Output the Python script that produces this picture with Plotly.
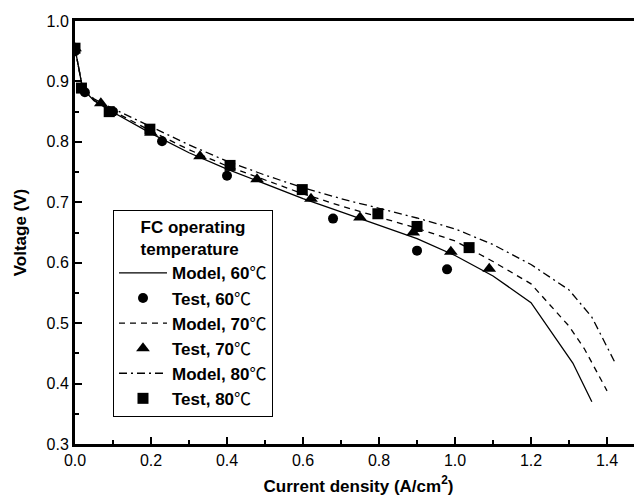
import plotly.graph_objects as go

# Model curves
model60_x = [0.0, 0.01, 0.02, 0.05, 0.1, 0.2, 0.3, 0.4, 0.5, 0.6, 0.7, 0.8, 0.9, 1.0, 1.1, 1.2, 1.31, 1.36]
model60_y = [0.955, 0.92, 0.888, 0.868, 0.849, 0.814, 0.782, 0.755, 0.730, 0.706, 0.684, 0.662, 0.640, 0.612, 0.578, 0.534, 0.434, 0.370]

model70_x = [0.0, 0.01, 0.02, 0.05, 0.1, 0.2, 0.3, 0.4, 0.5, 0.6, 0.7, 0.8, 0.9, 1.0, 1.1, 1.2, 1.3, 1.34, 1.4]
model70_y = [0.955, 0.92, 0.888, 0.869, 0.851, 0.818, 0.787, 0.760, 0.737, 0.714, 0.694, 0.675, 0.657, 0.636, 0.602, 0.565, 0.495, 0.458, 0.388]

model80_x = [0.0, 0.01, 0.02, 0.05, 0.1, 0.2, 0.3, 0.4, 0.5, 0.6, 0.7, 0.8, 0.9, 1.0, 1.1, 1.2, 1.3, 1.36, 1.42]
model80_y = [0.955, 0.92, 0.889, 0.871, 0.855, 0.825, 0.795, 0.768, 0.745, 0.724, 0.706, 0.690, 0.674, 0.656, 0.630, 0.597, 0.555, 0.510, 0.436]

# Test data
test60_x = [0.0, 0.026, 0.1, 0.229, 0.40, 0.679, 0.90, 0.979]
test60_y = [0.950, 0.882, 0.850, 0.801, 0.744, 0.673, 0.620, 0.589]

test70_x = [0.0, 0.068, 0.2, 0.329, 0.479, 0.621, 0.75, 0.89, 0.989, 1.09]
test70_y = [0.955, 0.864, 0.815, 0.776, 0.738, 0.706, 0.675, 0.650, 0.618, 0.590]

test80_x = [0.0, 0.017, 0.09, 0.197, 0.408, 0.598, 0.797, 0.90, 1.037]
test80_y = [0.955, 0.889, 0.850, 0.821, 0.761, 0.721, 0.681, 0.660, 0.625]

x_ticks = [0.0, 0.2, 0.4, 0.6, 0.8, 1.0, 1.2, 1.4]
y_ticks = [0.3, 0.4, 0.5, 0.6, 0.7, 0.8, 0.9, 1.0]

DEG = "<span style='font-family:Noto Sans CJK SC;font-weight:normal'>℃</span>"

fig = go.Figure()
fig.add_trace(go.Scatter(x=model60_x, y=model60_y, mode="lines", name="Model, 60" + DEG,
                         line=dict(color="black", width=1.3, dash="solid")))
fig.add_trace(go.Scatter(x=test60_x, y=test60_y, mode="markers", name="Test, 60" + DEG,
                         marker=dict(symbol="circle", size=10, color="black")))
fig.add_trace(go.Scatter(x=model70_x, y=model70_y, mode="lines", name="Model, 70" + DEG,
                         line=dict(color="black", width=1.3, dash="6px,5px")))
fig.add_trace(go.Scatter(x=test70_x, y=test70_y, mode="markers", name="Test, 70" + DEG,
                         marker=dict(symbol="triangle-up", size=12, color="black")))
fig.add_trace(go.Scatter(x=model80_x, y=model80_y, mode="lines", name="Model, 80" + DEG,
                         line=dict(color="black", width=1.3, dash="8px,4px,2px,4px")))
fig.add_trace(go.Scatter(x=test80_x, y=test80_y, mode="markers", name="Test, 80" + DEG,
                         marker=dict(symbol="square", size=11, color="black")))

FONT = "Liberation Sans, Arial, sans-serif"
tickfont = dict(family=FONT, size=16, color="black")
titlefont = dict(family=FONT, size=17, color="black", weight="bold")

# page body has an 8px margin, so the figure is sized/offset to land on the reference pixels
fig.update_layout(
    width=634, height=491,
    margin=dict(l=67, r=0, t=13, b=55, autoexpand=False),
    paper_bgcolor="white", plot_bgcolor="white",
    showlegend=True,
    legend=dict(
        x=0.067, y=0.553, xanchor="left", yanchor="top",
        bordercolor="black", borderwidth=1, bgcolor="white",
        font=dict(family=FONT, size=17, color="black", weight="bold"),
        title=dict(text="FC operating<br>temperature", side="top center",
                   font=dict(family=FONT, size=17, color="black", weight="bold")),
        itemwidth=48,
        tracegroupgap=0,
    ),
    xaxis=dict(
        range=[0, 1.492], tickvals=x_ticks, ticktext=[f"{v:.1f}" for v in x_ticks],
        ticks="inside", ticklen=7, tickwidth=2, tickcolor="black",
        minor=dict(dtick=0.1, ticks="inside", ticklen=4, tickwidth=2, tickcolor="black"),
        showline=True, linecolor="black", linewidth=3, mirror=True,
        showgrid=False, zeroline=False, tickfont=tickfont, automargin=False,
        title=dict(text="Current density (A/cm<sup>2</sup>)", font=titlefont, standoff=12),
    ),
    yaxis=dict(
        range=[0.3, 1.0], tickvals=y_ticks, ticktext=[f"{v:.1f}" for v in y_ticks],
        ticks="inside", ticklen=7, tickwidth=2, tickcolor="black",
        minor=dict(dtick=0.05, ticks="inside", ticklen=4, tickwidth=2, tickcolor="black"),
        showline=True, linecolor="black", linewidth=3, mirror=False,
        showgrid=False, zeroline=False, tickfont=tickfont, automargin=False,
        title=dict(text="Voltage (V)", font=titlefont, standoff=16),
    ),
)

fig.write_html("out.html")
